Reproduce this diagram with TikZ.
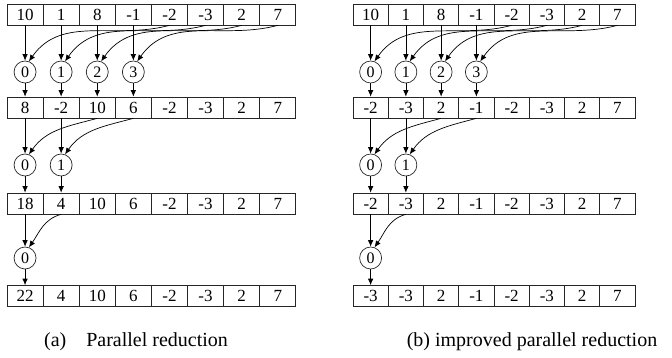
\documentclass[tikz,border=0pt]{standalone}
\usepackage{fontspec}
\setmainfont{Liberation Serif}
\usetikzlibrary{arrows.meta}
\begin{document}
\begin{tikzpicture}[x=1pt,y=-1pt,
  cell/.style={draw=black!85,line width=0.7pt,rectangle,minimum height=21pt,inner sep=0pt,font=\fontsize{17}{17}\selectfont},
  proc/.style={draw=black!85,line width=0.7pt,circle,minimum size=22pt,inner sep=0pt,font=\fontsize{16}{16}\selectfont},
  arr/.style={line width=0.7pt,-{Latex[length=6.5pt,width=5.5pt]}},
  captxt/.style={font=\fontsize{20}{20}\selectfont,inner sep=0pt}]
\useasboundingbox (0,0) rectangle (672,357);
% ---------- helper macro for one diagram ----------
\newcommand{\drawrow}[5]{% prefix, x0, w, ycenter, list
  \foreach \v [count=\k from 0] in {#5} {
    \node[cell,minimum width=#3 pt] (#1-\k) at ({#2+#3*\k+#3/2},#4) {\v};
  }}
\newcommand{\drawcircles}[5]{% prefix, x0, w, y, n
  \foreach \k in {0,...,#5} {
    \node[proc] (#1-\k) at ({#2+#3*\k+#3/2},#4) {\k};
  }}
% ----- Left (a) -----
\drawrow{LA}{7}{36.1}{14.5}{10,1,8,-1,-2,-3,2,7}
\drawcircles{LCA}{7}{36.1}{72}{3}
\drawrow{LB}{7}{36.1}{107.5}{8,-2,10,6,-2,-3,2,7}
\drawcircles{LCB}{7}{36.1}{165}{1}
\drawrow{LC}{7}{36.1}{203.5}{18,4,10,6,-2,-3,2,7}
\drawcircles{LCC}{7}{36.1}{258}{0}
\drawrow{LD}{7}{36.1}{296}{22,4,10,6,-2,-3,2,7}
% ----- Right (b) -----
\drawrow{RA}{353}{35.25}{14.5}{10,1,8,-1,-2,-3,2,7}
\drawcircles{RCA}{353}{35.25}{72}{3}
\drawrow{RB}{353}{35.25}{107.5}{-2,-3,2,-1,-2,-3,2,7}
\drawcircles{RCB}{353}{35.25}{165}{1}
\drawrow{RC}{353}{35.25}{203.5}{-2,-3,2,-1,-2,-3,2,7}
\drawcircles{RCC}{353}{35.25}{258}{0}
\drawrow{RD}{353}{35.25}{296}{-3,-3,2,-1,-2,-3,2,7}
% ----- arrows -----
\foreach \s in {L,R} {
  \foreach \k [evaluate=\k as \j using int(\k+4)] in {0,...,3} {
    \draw[arr] (\s A-\k.south) -- (\s CA-\k.north);
    \draw[arr] (\s A-\j.south) to[out=195,in=55] (\s CA-\k.70);
    \draw[arr] (\s CA-\k.south) -- (\s B-\k.north);
  }
  \foreach \k [evaluate=\k as \j using int(\k+2)] in {0,1} {
    \draw[arr] (\s B-\k.south) -- (\s CB-\k.north);
    \draw[arr] (\s B-\j.south) to[out=195,in=55] (\s CB-\k.70);
    \draw[arr] (\s CB-\k.south) -- (\s C-\k.north);
  }
  \draw[arr] (\s C-0.south) -- (\s CC-0.north);
  \draw[arr] (\s C-1.south) to[out=195,in=55] (\s CC-0.70);
  \draw[arr] (\s CC-0.south) -- (\s D-0.north);
}
% ----- captions -----
\node[captxt] (capa) at (136,342) {(a)\quad Parallel reduction};
\node[captxt] (capb) at (532,342) {(b) improved parallel reduction};
\end{tikzpicture}
\end{document}
